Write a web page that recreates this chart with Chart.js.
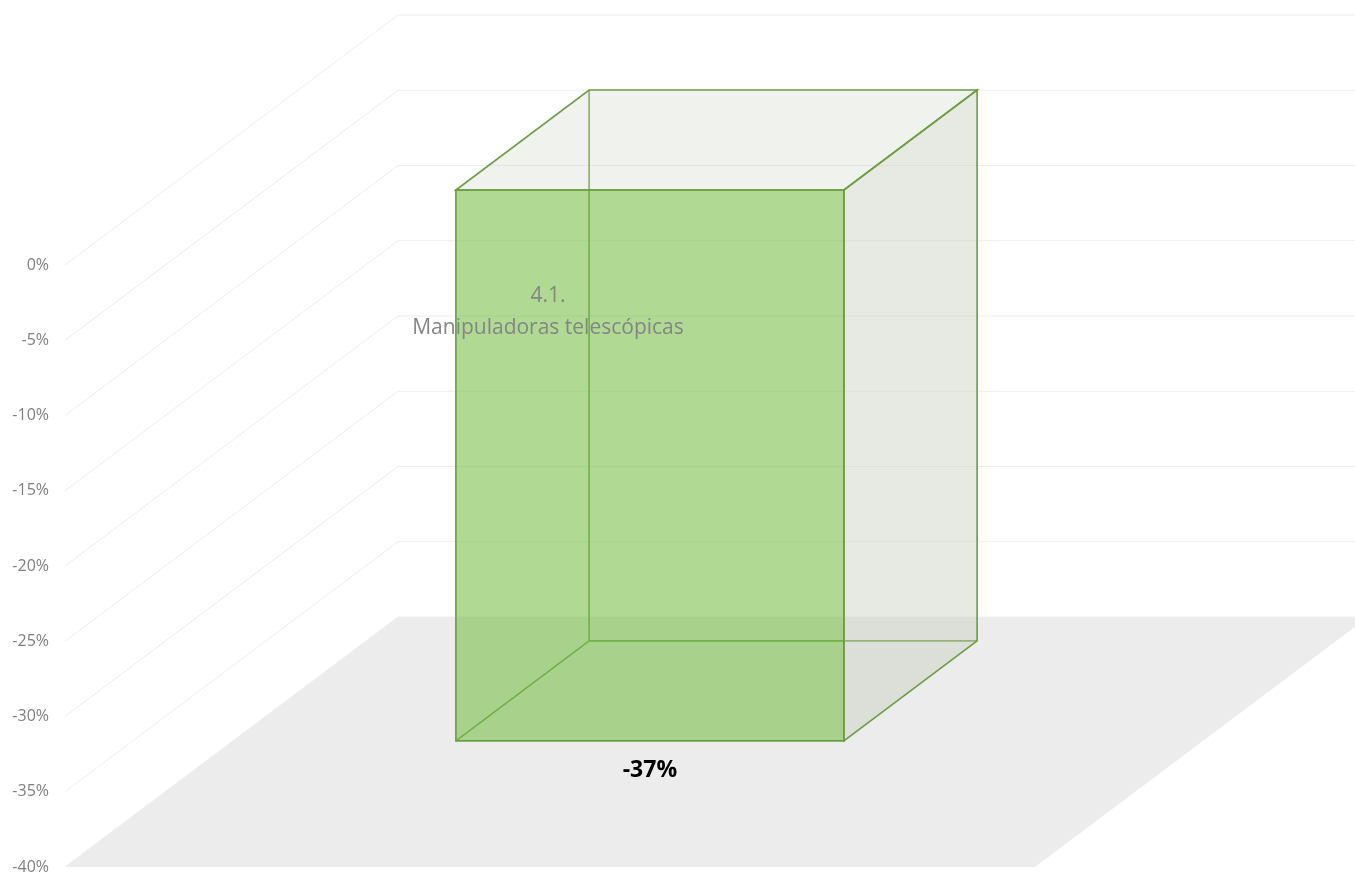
<!DOCTYPE html>
<html>
<head>
<meta charset="utf-8">
<script src="https://cdn.jsdelivr.net/npm/chart.js@4"></script>
<style>
  html, body { margin: 0; padding: 0; background: #fff; }
  #wrap { width: 1355px; height: 889px; }
</style>
</head>
<body>
<div id="wrap"><canvas id="grafico"></canvas></div>
<script>
// dados
const categorias = [['4.1.', 'Manipuladoras telescópicas']];
const variacao = [-36.6];
const eixoMin = -40;
const eixoMax = 0;
const passo = 5;

// perspectiva (deslocamento da parede do fundo, em px)
const fundo = { dx: 333, dy: -250 };
const frenteBarra = 0.3;   // onde começa a barra na profundidade
const profBarra = 0.4;     // espessura da barra na profundidade

function poligono(ctx, pts) {
  ctx.beginPath();
  ctx.moveTo(pts[0][0], pts[0][1]);
  for (let i = 1; i < pts.length; i++) ctx.lineTo(pts[i][0], pts[i][1]);
  ctx.closePath();
}

const caixa3d = {
  id: 'caixa3d',
  beforeDatasetsDraw(chart) {
    const { ctx, chartArea: a, scales: { y } } = chart;
    const { dx, dy } = fundo;
    ctx.save();

    // piso
    ctx.fillStyle = '#ececec';
    poligono(ctx, [[a.left, a.bottom], [a.right, a.bottom], [a.right + dx, a.bottom + dy], [a.left + dx, a.bottom + dy]]);
    ctx.fill();

    // grelha nas paredes
    ctx.strokeStyle = '#ededed';
    ctx.lineWidth = 1;
    y.ticks.forEach(t => {
      const py = y.getPixelForValue(t.value);
      ctx.beginPath();
      ctx.moveTo(a.left, py);
      ctx.lineTo(a.left + dx, py + dy);
      ctx.lineTo(a.right + dx, py + dy);
      ctx.stroke();
    });

    // barras em caixa
    chart.getDatasetMeta(0).data.forEach(bar => {
      const p = bar.getProps(['x', 'y', 'base', 'width']);
      const ox = frenteBarra * dx, oy = frenteBarra * dy;
      const bx = profBarra * dx, by = profBarra * dy;
      const x0 = p.x - p.width / 2 + ox, x1 = p.x + p.width / 2 + ox;
      const yt = Math.min(p.base, p.y) + oy, yb = Math.max(p.base, p.y) + oy;

      ctx.strokeStyle = 'rgb(108,156,68)';
      ctx.lineWidth = 1.6;
      // arestas escondidas
      ctx.beginPath();
      ctx.moveTo(x0 + bx, yt + by);
      ctx.lineTo(x0 + bx, yb + by);
      ctx.lineTo(x1 + bx, yb + by);
      ctx.moveTo(x0, yb);
      ctx.lineTo(x0 + bx, yb + by);
      ctx.stroke();

      // face lateral
      ctx.fillStyle = 'rgba(202,208,191,0.45)';
      poligono(ctx, [[x1, yt], [x1 + bx, yt + by], [x1 + bx, yb + by], [x1, yb]]);
      ctx.fill();
      ctx.stroke();
      // topo
      ctx.fillStyle = 'rgba(205,215,195,0.3)';
      poligono(ctx, [[x0, yt], [x1, yt], [x1 + bx, yt + by], [x0 + bx, yt + by]]);
      ctx.fill();
      ctx.stroke();
      // frente
      ctx.fillStyle = 'rgba(119,189,71,0.58)';
      poligono(ctx, [[x0, yt], [x1, yt], [x1, yb], [x0, yb]]);
      ctx.fill();
      ctx.stroke();
    });
    ctx.restore();
  },
  afterDatasetsDraw(chart) {
    const { ctx, scales: { x, y } } = chart;
    const { dx, dy } = fundo;
    const y0 = y.getPixelForValue(0);
    ctx.save();
    ctx.textAlign = 'center';
    ctx.textBaseline = 'middle';

    // rótulos de categoria
    ctx.fillStyle = '#858585';
    ctx.font = '21px "Open Sans"';
    chart.data.labels.forEach((lab, i) => {
      const cx = x.getPixelForValue(i);
      lab.forEach((linha, j) => ctx.fillText(linha, cx - 2, y0 + 31 + j * 32));
    });

    // rótulos de dados
    ctx.fillStyle = '#000';
    ctx.font = 'bold 23px "Open Sans"';
    chart.getDatasetMeta(0).data.forEach((bar, i) => {
      const v = chart.data.datasets[0].data[i];
      const p = bar.getProps(['x', 'y', 'base']);
      const yb = Math.max(p.base, p.y) + frenteBarra * dy;
      ctx.fillText(Math.round(v) + '%', p.x + frenteBarra * dx, yb + 30);
    });
    ctx.restore();
  }
};

new Chart(document.getElementById('grafico'), {
  type: 'bar',
  data: {
    labels: categorias,
    datasets: [{
      data: variacao,
      backgroundColor: 'transparent',
      borderWidth: 0,
      barPercentage: 0.4,
      categoryPercentage: 1
    }]
  },
  options: {
    responsive: true,
    maintainAspectRatio: false,
    animation: false,
    layout: { padding: { top: 265, right: 320, bottom: 22, left: 0 } },
    plugins: {
      legend: { display: false },
      tooltip: { enabled: false }
    },
    scales: {
      x: { display: false },
      y: {
        min: eixoMin,
        max: eixoMax,
        ticks: {
          stepSize: passo,
          callback: v => v + '%',
          color: '#7f7f7f',
          font: { family: 'Open Sans', size: 16, lineHeight: 0.7 },
          padding: 16
        },
        grid: { display: false, drawTicks: false },
        border: { display: false },
        afterFit(s) { s.width = 65; }
      }
    }
  },
  plugins: [caixa3d]
});
</script>
</body>
</html>
